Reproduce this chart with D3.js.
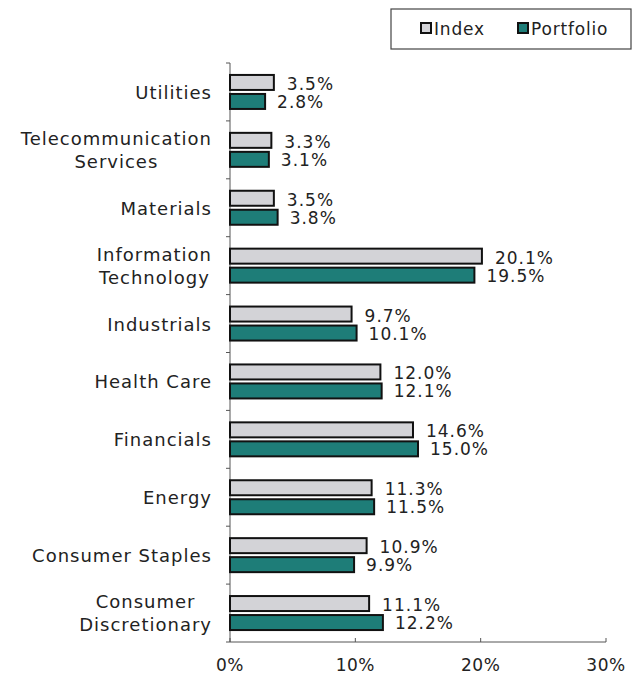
<!DOCTYPE html>
<html><head><meta charset="utf-8">
<script src="https://cdn.jsdelivr.net/npm/d3@7"></script>
<style>body{margin:0;background:#fff}svg{display:block}text{font-family:"DejaVu Sans",sans-serif;fill:#222}</style>
</head><body><svg id="c" width="638" height="679"></svg>
<script>
const categories = [["Utilities"],["Telecommunication","Services"],["Materials"],["Information","Technology"],["Industrials"],["Health Care"],["Financials"],["Energy"],["Consumer Staples"],["Consumer","Discretionary"]];
const indexValues = [3.5,3.3,3.5,20.1,9.7,12.0,14.6,11.3,10.9,11.1];
const portfolioValues = [2.8,3.1,3.8,19.5,10.1,12.1,15.0,11.5,9.9,12.2];
const xTicks = [0,10,20,30];
const seriesNames = ["Index","Portfolio"];

const svg = d3.select("#c");
const x = d3.scaleLinear().domain([0,30]).range([230,606]);
const y = d3.scaleBand().domain(d3.range(categories.length)).range([63,642]);
const colors = ["#d3d3d7","#1e7d78"];
const bh = 15, gap = 4;

const g = svg.append("g");
g.append("line").attr("x1",x(0)).attr("x2",x(0)).attr("y1",63).attr("y2",642).attr("stroke","#555").attr("stroke-width",1);
g.append("line").attr("x1",x(0)).attr("x2",x(30)).attr("y1",642).attr("y2",642).attr("stroke","#555").attr("stroke-width",1);
const bounds = d3.range(categories.length+1).map(i=>63+i*y.step());
g.selectAll(".yt").data(bounds).join("line").attr("x1",x(0)-4).attr("x2",x(0)).attr("y1",d=>d).attr("y2",d=>d).attr("stroke","#555");
g.selectAll(".xt").data(xTicks).join("line").attr("x1",d=>x(d)).attr("x2",d=>x(d)).attr("y1",638).attr("y2",642).attr("stroke","#555");
g.selectAll(".xl").data(xTicks).join("text").attr("x",d=>x(d)).attr("y",671).attr("text-anchor","middle").attr("font-size",17).attr("letter-spacing",0.5).text(d=>d+"%");

const labelRight = 212;
categories.forEach((c,i)=>{
  const yc = y(i)+y.bandwidth()/2;
  const yi = yc - gap/2 - bh;
  const yp = yc + gap/2;
  g.append("rect").attr("x",x(0)).attr("y",yi).attr("width",x(indexValues[i])-x(0)).attr("height",bh).attr("fill",colors[0]).attr("stroke","#111").attr("stroke-width",2);
  g.append("rect").attr("x",x(0)).attr("y",yp).attr("width",x(portfolioValues[i])-x(0)).attr("height",bh).attr("fill",colors[1]).attr("stroke","#111").attr("stroke-width",2);
  g.append("text").attr("x",x(indexValues[i])+13).attr("y",yc-2).attr("font-size",17).attr("letter-spacing",1).text(indexValues[i].toFixed(1)+"%");
  g.append("text").attr("x",x(portfolioValues[i])+12).attr("y",yc+16).attr("font-size",17).attr("letter-spacing",1).text(portfolioValues[i].toFixed(1)+"%");
  const t = g.append("text").attr("text-anchor","middle").attr("font-size",18).attr("letter-spacing",1);
  if (c.length===1) {
    t.append("tspan").attr("y",yc+7).text(c[0]);
    const w = t.node().getComputedTextLength();
    t.select("tspan").attr("x",labelRight - w/2);
  } else {
    const s1 = t.append("tspan").attr("y",yc-5).text(c[0]);
    const s2 = t.append("tspan").attr("y",yc+18).text(c[1]);
    const w = Math.max(s1.node().getComputedTextLength(), s2.node().getComputedTextLength());
    s1.attr("x",labelRight - w/2); s2.attr("x",labelRight - w/2);
  }
});

const lg = svg.append("g");
lg.append("rect").attr("x",391).attr("y",9).attr("width",240).attr("height",40).attr("fill","#fff").attr("stroke","#444").attr("stroke-width",1.2);
const lx = [421,518];
seriesNames.forEach((s,i)=>{
  lg.append("rect").attr("x",lx[i]).attr("y",23).attr("width",10).attr("height",10).attr("fill",colors[i]).attr("stroke","#111").attr("stroke-width",2);
  lg.append("text").attr("x",lx[i]+13).attr("y",35).attr("font-size",17).attr("letter-spacing",0.8).text(s);
});
</script></body></html>
